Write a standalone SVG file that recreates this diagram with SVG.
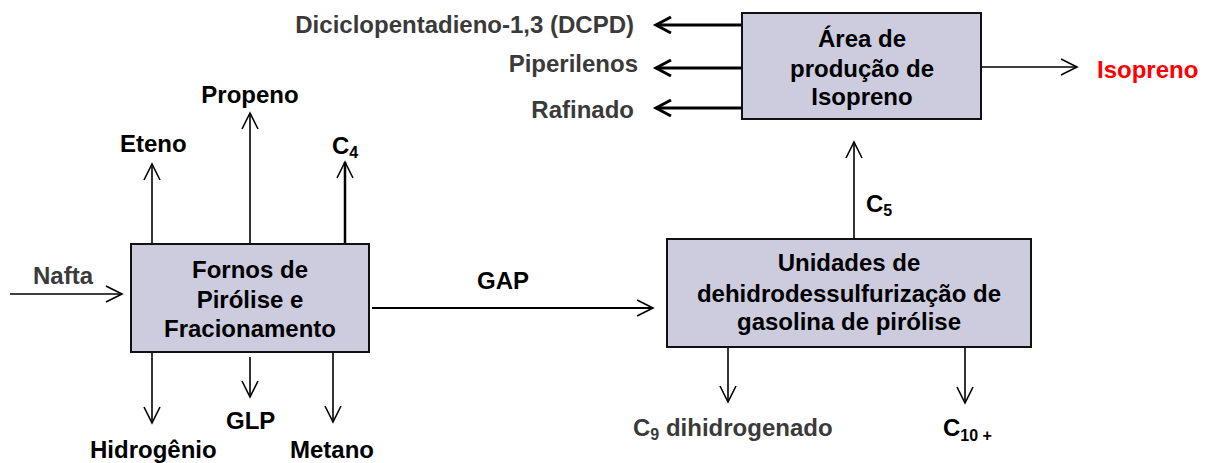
<svg xmlns="http://www.w3.org/2000/svg" width="1205" height="463" viewBox="0 0 1205 463">
<style>
text{font-family:"Liberation Sans",Arial,sans-serif;font-weight:bold;font-size:24px;fill:#000}
.g{fill:#3a3a3a}
.red{fill:#ff0000}
.sub{font-size:16px}
.box{fill:#ccccde;stroke:#111;stroke-width:2}
.ln{stroke:#000;stroke-width:1.6;fill:none}
.thick{stroke:#000;stroke-width:3;fill:none}
.mid{text-anchor:middle}
.end{text-anchor:end}
</style>
<defs>
<marker id="ah" markerUnits="userSpaceOnUse" markerWidth="20" markerHeight="20" viewBox="-18 -10 20 20" refX="0" refY="0" orient="auto">
<path d="M-16,-8 L0,0 L-16,8" fill="none" stroke="#000" stroke-width="1.6"/>
</marker>
<marker id="ahb" markerUnits="userSpaceOnUse" markerWidth="22" markerHeight="22" viewBox="-18 -11 22 22" refX="0" refY="0" orient="auto">
<path d="M-15,-8 L0,0 L-15,8" fill="none" stroke="#000" stroke-width="3"/>
</marker>
</defs>

<g id="connectors">
<line class="ln" x1="10" y1="294" x2="122" y2="294" marker-end="url(#ah)"/>
<line class="ln" x1="152" y1="246" x2="152" y2="164" marker-end="url(#ah)"/>
<line class="ln" x1="250" y1="244" x2="250" y2="113" marker-end="url(#ah)"/>
<line class="ln" x1="345" y1="244" x2="345" y2="162" marker-end="url(#ah)" style="stroke-width:2.5"/>
<line class="ln" x1="152" y1="353" x2="152" y2="423" marker-end="url(#ah)"/>
<line class="ln" x1="250" y1="357" x2="250" y2="397" marker-end="url(#ah)"/>
<line class="ln" x1="333" y1="353" x2="333" y2="422" marker-end="url(#ah)"/>
<line class="ln" x1="372" y1="308" x2="653" y2="308" marker-end="url(#ah)" style="stroke-width:2"/>
<line class="ln" x1="854" y1="239" x2="854" y2="142" marker-end="url(#ah)"/>
<line class="ln" x1="728" y1="347" x2="728" y2="402" marker-end="url(#ah)"/>
<line class="ln" x1="965" y1="347" x2="965" y2="403" marker-end="url(#ah)"/>
<line class="ln" x1="981" y1="67" x2="1077" y2="67" marker-end="url(#ah)"/>
<line class="thick" x1="742" y1="25" x2="656" y2="25" marker-end="url(#ahb)"/>
<line class="thick" x1="742" y1="68" x2="656" y2="68" marker-end="url(#ahb)"/>
<line class="thick" x1="742" y1="108" x2="656" y2="108" marker-end="url(#ahb)"/>
</g>

<g id="fornos">
<rect class="box" x="131" y="244" width="238" height="108"/>
<text class="mid" x="250" y="278">Fornos de</text>
<text class="mid" x="250" y="308">Pirólise e</text>
<text class="mid" x="250" y="337">Fracionamento</text>
</g>

<g id="unidades">
<rect class="box" x="667" y="239" width="364" height="108"/>
<text class="mid" x="849" y="271">Unidades de</text>
<text class="mid" x="849" y="302">dehidrodessulfurização de</text>
<text class="mid" x="849" y="330">gasolina de pirólise</text>
</g>

<g id="area">
<rect class="box" x="742" y="13" width="239" height="106"/>
<text class="mid" x="862" y="47">Área de</text>
<text class="mid" x="862" y="77">produção de</text>
<text class="mid" x="862" y="105">Isopreno</text>
</g>

<g id="labels">
<text class="g end" x="634" y="33">Diciclopentadieno-1,3 (DCPD)</text>
<text class="g end" x="638" y="72">Piperilenos</text>
<text class="g end" x="634" y="118">Rafinado</text>
<text class="red" x="1097" y="78">Isopreno</text>
<text class="mid" x="250" y="103">Propeno</text>
<text x="120" y="152">Eteno</text>
<text x="332" y="154">C<tspan class="sub" dy="4">4</tspan></text>
<text class="g" x="33" y="284">Nafta</text>
<text x="477" y="289">GAP</text>
<text x="90" y="458">Hidrogênio</text>
<text x="226" y="429">GLP</text>
<text x="290" y="458">Metano</text>
<text x="866" y="212">C<tspan class="sub" dy="4">5</tspan></text>
<text class="g" x="633" y="436">C<tspan class="sub" dy="4">9</tspan><tspan dy="-4"> dihidrogenado</tspan></text>
<text x="943" y="436">C<tspan class="sub" dy="5">10 +</tspan></text>
</g>
</svg>
